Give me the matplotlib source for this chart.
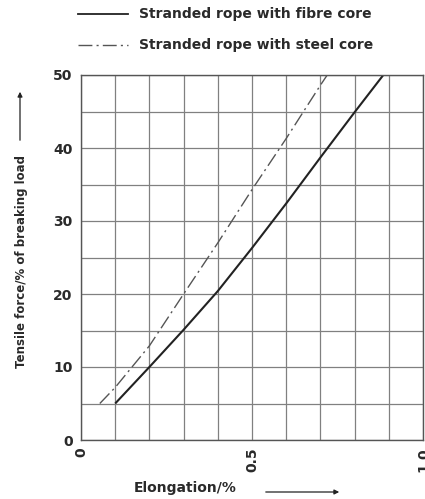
import matplotlib
matplotlib.use("Agg")
import matplotlib.pyplot as plt
from matplotlib.lines import Line2D
from matplotlib.patches import FancyArrowPatch

# Data
fibre_x = [0.10, 0.20, 0.30, 0.40, 0.50, 0.60, 0.70, 0.80, 0.884]
fibre_y = [5.0, 10.0, 15.1, 20.4, 26.3, 32.4, 38.7, 44.9, 50.0]
steel_x = [0.055, 0.10, 0.20, 0.30, 0.40, 0.50, 0.60, 0.70, 0.72]
steel_y = [5.0, 7.2, 12.9, 20.0, 27.0, 34.3, 41.3, 48.6, 50.0]
labels = ["Stranded rope with fibre core", "Stranded rope with steel core"]
xticks = [0, 0.5, 1.0]
xticklabels = ["0", "0.5", "1.0"]
yticks = [0, 10, 20, 30, 40, 50]

plt.rcParams['font.family'] = ['DejaVu Sans']
TXT = '#2a2a2a'
DASH = (10, 3, 1.5, 3)

W, H = 425, 499
fig = plt.figure(figsize=(W/100, H/100), dpi=100)
ax = fig.add_axes([81/W, 59/H, 342/W, 365/H])

ax.plot(fibre_x, fibre_y, color='#222222', lw=1.5, solid_capstyle='butt')
ax.plot(steel_x, steel_y, color='#555555', lw=1.0, dashes=DASH)

ax.set_xlim(0, 1.0)
ax.set_ylim(0, 50)
ax.set_xticks([i/10 for i in range(11)], minor=True)
ax.set_yticks([i*5 for i in range(11)], minor=True)
ax.set_xticks(xticks)
ax.set_xticklabels(xticklabels, rotation=90, fontsize=10, fontweight='bold', color=TXT)
ax.set_yticks(yticks)
ax.set_yticklabels([str(v) for v in yticks], fontsize=10, fontweight='bold', color=TXT)
ax.tick_params(axis='y', which='both', length=0, pad=6)
ax.tick_params(axis='x', which='both', length=0, pad=5)
ax.grid(which='both', color='#808080', lw=0.9)
ax.set_axisbelow(True)
for s in ax.spines.values():
    s.set_color('#555555')
    s.set_linewidth(1.0)

# Legend above plot (drawn manually in figure pixels)
def fx(px):
    return px / W

def fy(py):
    return 1 - py / H

fig.add_artist(Line2D([fx(78), fx(128)], [fy(14), fy(14)], color='#222222', lw=1.3))
fig.add_artist(Line2D([fx(78), fx(128)], [fy(45), fy(45)], color='#555555', lw=1.0,
                      dashes=(10, 3, 1.5, 3)))
fig.text(fx(139), fy(14), labels[0], ha='left', va='center', fontsize=10,
         fontweight='bold', color=TXT)
fig.text(fx(139), fy(45), labels[1], ha='left', va='center', fontsize=10,
         fontweight='bold', color=TXT)

# Axis labels with arrows
fig.text(fx(22), fy(262), "Tensile force/% of breaking load", rotation=90,
         ha='center', va='center', fontsize=8.5, fontweight='bold', color=TXT)
fig.text(fx(185), fy(488), "Elongation/%", ha='center', va='center',
         fontsize=10, fontweight='bold', color=TXT)
fig.add_artist(FancyArrowPatch((fx(20), fy(143)), (fx(20), fy(89)), transform=fig.transFigure,
                               arrowstyle='-|>', mutation_scale=7, color='#222222', lw=0.9))
fig.add_artist(FancyArrowPatch((fx(263), fy(492)), (fx(342), fy(492)), transform=fig.transFigure,
                               arrowstyle='-|>', mutation_scale=7, color='#222222', lw=0.9))

fig.savefig("out.png", dpi=100)
